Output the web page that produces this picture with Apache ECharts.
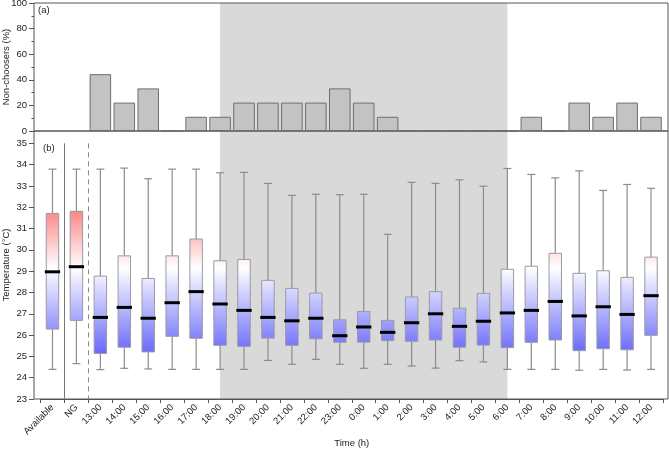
<!DOCTYPE html>
<html>
<head>
<meta charset="utf-8">
<script src="https://cdn.jsdelivr.net/npm/echarts@6/dist/echarts.min.js"></script>
<style>
  html, body { margin: 0; padding: 0; background: #fff; }
  #chart { width: 669px; height: 449px; }
</style>
</head>
<body>
<div id="chart"></div>
<script>
const categories = ['Available', 'NG', '13:00', '14:00', '15:00', '16:00', '17:00', '18:00', '19:00',
    '20:00', '21:00', '22:00', '23:00', '0:00', '1:00', '2:00', '3:00', '4:00', '5:00', '6:00',
    '7:00', '8:00', '9:00', '10:00', '11:00', '12:00'];

// (a) share of non-choosers, %
const nonChoosers = [null, null, 44.4, 22.2, 33.3, 0, 11.1, 11.1, 22.2, 22.2, 22.2, 22.2, 33.3,
    22.2, 11.1, 0, 0, 0, 0, 0, 11.1, 0, 22.2, 11.1, 22.2, 11.1];

// (b) temperature box plots, °C
const whiskerLow = [24.39, 24.66, 24.38, 24.44, 24.41, 24.39, 24.39, 24.39, 24.39, 24.81, 24.63, 24.86,
    24.63, 24.44, 24.63, 24.55, 24.45, 24.80, 24.74, 24.39, 24.39, 24.39, 24.35, 24.39, 24.36, 24.39];
const quartile1 = [26.28, 26.69, 25.14, 25.43, 25.21, 25.94, 25.85, 25.52, 25.47, 25.86, 25.52, 25.83,
    25.66, 25.67, 25.74, 25.71, 25.77, 25.43, 25.53, 25.41, 25.66, 25.77, 25.27, 25.36, 25.31, 25.99];
const medians = [28.97, 29.21, 26.83, 27.30, 26.79, 27.52, 28.04, 27.46, 27.16, 26.83, 26.67, 26.79,
    25.97, 26.38, 26.13, 26.58, 27.00, 26.41, 26.65, 27.04, 27.16, 27.58, 26.90, 27.33, 26.97, 27.85];
const quartile3 = [31.71, 31.81, 28.77, 29.72, 28.66, 29.72, 30.51, 29.49, 29.55, 28.57, 28.19, 27.97,
    26.72, 27.11, 26.69, 27.79, 28.04, 27.26, 27.96, 29.09, 29.23, 29.84, 28.90, 29.02, 28.71, 29.66];
const whiskerHigh = [33.79, 33.79, 33.79, 33.84, 33.34, 33.79, 33.79, 33.62, 33.64, 33.12, 32.56, 32.61,
    32.59, 32.61, 30.73, 33.17, 33.12, 33.29, 32.99, 33.82, 33.54, 33.38, 33.71, 32.79, 33.07, 32.89];

const shadedFrom = '18:00';
const shadedTo = '6:00';
const solidDividerBefore = 'NG';
const dashedDividerBefore = '13:00';

const tempTicks = [23, 24, 25, 26, 27, 28, 29, 30, 31, 32, 33, 34, 35];
const tempMinorTicks = [23.5, 24.5, 25.5, 26.5, 27.5, 28.5, 29.5, 30.5, 31.5, 32.5, 33.5, 34.5];
const tempTop = 35.58; // panel (b) frame reaches a little above 35

const FONT = '"Liberation Sans", Arial, Helvetica, sans-serif';
const AXIS = '#555';
const TEXT = '#222';

// colour of the box fill follows the temperature itself
const WHITE_T = 29.15, RED_T = 32, BLUE_T = 25;
const RED = [252, 125, 125], BLUE = [98, 98, 250];
function tempColor(t) {
    let c, f;
    if (t >= WHITE_T) {
        f = Math.min(1, (t - WHITE_T) / (RED_T - WHITE_T));
        c = RED;
    } else {
        f = Math.min(1, (WHITE_T - t) / (WHITE_T - BLUE_T));
        c = BLUE;
    }
    const mix = c.map(v => Math.round(255 + (v - 255) * f));
    return 'rgb(' + mix.join(',') + ')';
}
function boxGradient(top, bottom) {
    const pts = [top, WHITE_T, RED_T, BLUE_T, bottom]
        .filter(t => t <= top && t >= bottom)
        .sort((a, b) => b - a);
    const span = top - bottom || 1;
    const stops = pts.map(t => ({ offset: (top - t) / span, color: tempColor(t) }));
    return new echarts.graphic.LinearGradient(0, 0, 0, 1, stops);
}

function renderBox(params, api) {
    const i = api.value(0);
    const band = api.size([1, 0])[0];
    const lo = api.coord([i, api.value(1)]);
    const q1 = api.coord([i, api.value(2)]);
    const md = api.coord([i, api.value(3)]);
    const q3 = api.coord([i, api.value(4)]);
    const hi = api.coord([i, api.value(5)]);
    const x = hi[0];
    const boxW = band * 0.52, capW = band * 0.33, medW = band * 0.64;
    const whisker = { stroke: '#8c8c8c', lineWidth: 1.2 };
    return {
        type: 'group',
        children: [
            { type: 'line', shape: { x1: x, y1: hi[1], x2: x, y2: q3[1] }, style: whisker },
            { type: 'line', shape: { x1: x, y1: q1[1], x2: x, y2: lo[1] }, style: whisker },
            { type: 'line', shape: { x1: x - capW / 2, y1: hi[1], x2: x + capW / 2, y2: hi[1] }, style: whisker },
            { type: 'line', shape: { x1: x - capW / 2, y1: lo[1], x2: x + capW / 2, y2: lo[1] }, style: whisker },
            {
                type: 'rect',
                shape: { x: x - boxW / 2, y: q3[1], width: boxW, height: q1[1] - q3[1] },
                style: { fill: boxGradient(api.value(4), api.value(2)), stroke: '#9a9aa6', lineWidth: 1 }
            },
            { type: 'line', shape: { x1: x - medW / 2, y1: md[1], x2: x + medW / 2, y2: md[1] }, style: { stroke: '#000', lineWidth: 3 } }
        ]
    };
}

function renderShade(params, api) {
    const cs = params.coordSys;
    const x1 = api.coord([api.value(0), 0])[0];
    const x2 = api.coord([api.value(1), 0])[0];
    return {
        type: 'rect',
        shape: { x: x1, y: cs.y, width: x2 - x1, height: cs.height },
        style: { fill: '#d9d9d9' }
    };
}

function dividerSeries(name, dashed) {
    return {
        type: 'custom',
        xAxisIndex: 1,
        yAxisIndex: 1,
        z: 1,
        data: [[categories.indexOf(name)]],
        encode: { x: 0 },
        renderItem: function (params, api) {
            const i = api.value(0);
            const band = api.size([1, 0])[0];
            const bottom = api.coord([i, tempTicks[0]]);
            const top = api.coord([i, tempTicks[tempTicks.length - 1]]);
            const x = Math.round(bottom[0] - band / 2) + 0.5;
            return {
                type: 'line',
                shape: { x1: x, y1: top[1], x2: x, y2: bottom[1] },
                style: { stroke: dashed ? '#8a8a8a' : '#777', lineWidth: 1, lineDash: dashed ? [5, 4] : null }
            };
        }
    };
}

const boxData = categories.map((c, i) => [i, whiskerLow[i], quartile1[i], medians[i], quartile3[i], whiskerHigh[i]]);
const shadeData = [[categories.indexOf(shadedFrom), categories.indexOf(shadedTo)]];

const chart = echarts.init(document.getElementById('chart'), null, { renderer: 'canvas' });

const gridBase = { outerBoundsMode: 'none', containLabel: false };
const nameFont = { fontSize: 9.5, color: TEXT, fontFamily: FONT, verticalAlign: 'middle' };

chart.setOption({
    animation: false,
    backgroundColor: '#fff',
    textStyle: { fontFamily: FONT },
    grid: [
        Object.assign({ left: 40.5, right: 6, top: 3, height: 128 }, gridBase),
        Object.assign({ left: 40.5, right: 6, top: 131, bottom: 50 }, gridBase),
        Object.assign({ left: 34, right: 1, top: 3, height: 128, show: true, borderColor: AXIS, borderWidth: 1, backgroundColor: 'transparent' }, gridBase),
        Object.assign({ left: 34, right: 1, top: 131, bottom: 50, show: true, borderColor: AXIS, borderWidth: 1, backgroundColor: 'transparent' }, gridBase)
    ],
    xAxis: [
        {
            type: 'category', gridIndex: 0, data: categories,
            axisLine: { show: false }, axisTick: { show: false }, axisLabel: { show: false }
        },
        {
            type: 'category', gridIndex: 1, data: categories,
            axisLine: { show: true, lineStyle: { color: AXIS } },
            axisTick: { show: true, length: 4, lineStyle: { color: AXIS } },
            axisLabel: { interval: 0, rotate: 45, fontSize: 9.5, color: TEXT, margin: 7, fontFamily: FONT },
            name: 'Time (h)', nameLocation: 'middle', nameGap: 44, nameMoveOverlap: false,
            nameTextStyle: nameFont
        }
    ],
    yAxis: [
        {
            type: 'value', gridIndex: 0, min: 0, max: 100, interval: 20, offset: 6.5,
            axisLine: { show: false },
            axisTick: { show: true, length: 5, lineStyle: { color: AXIS } },
            minorTick: { show: true, splitNumber: 2, length: 2.5, lineStyle: { color: AXIS } },
            splitLine: { show: false },
            axisLabel: { fontSize: 9.5, color: TEXT, margin: 7, fontFamily: FONT },
            name: 'Non-choosers (%)', nameLocation: 'middle', nameGap: 27.5, nameMoveOverlap: false,
            nameTextStyle: nameFont
        },
        {
            type: 'value', gridIndex: 1, min: 23, max: tempTop, interval: 1, offset: 6.5,
            axisLine: { show: false },
            axisTick: { show: true, length: 5, customValues: tempTicks, lineStyle: { color: AXIS } },
            splitLine: { show: false },
            axisLabel: { fontSize: 9.5, color: TEXT, margin: 7, customValues: tempTicks, fontFamily: FONT },
            name: 'Temperature (°C)', nameLocation: 'middle', nameGap: 27.5, nameMoveOverlap: false,
            nameTextStyle: nameFont
        },
        {
            type: 'value', gridIndex: 1, min: 23, max: tempTop, interval: 1, offset: 6.5,
            axisLine: { show: false },
            axisTick: { show: true, length: 2.5, customValues: tempMinorTicks, lineStyle: { color: AXIS } },
            splitLine: { show: false },
            axisLabel: { show: false }
        }
    ],
    graphic: [
        { type: 'text', left: 38, top: 5, style: { text: '(a)', fontSize: 9.5, fill: TEXT, fontFamily: FONT } },
        { type: 'text', left: 43, top: 143, style: { text: '(b)', fontSize: 9.5, fill: TEXT, fontFamily: FONT } }
    ],
    series: [
        {
            type: 'custom', xAxisIndex: 0, yAxisIndex: 0, z: -1, silent: true,
            data: shadeData, encode: { x: [0, 1] }, renderItem: renderShade
        },
        {
            type: 'custom', xAxisIndex: 1, yAxisIndex: 1, z: -1, silent: true,
            data: shadeData, encode: { x: [0, 1] }, renderItem: renderShade
        },
        {
            type: 'bar', xAxisIndex: 0, yAxisIndex: 0, data: nonChoosers, barWidth: '90%',
            itemStyle: { color: '#c3c3c3', borderColor: '#6e6e6e', borderWidth: 1 }
        },
        dividerSeries(solidDividerBefore, false),
        dividerSeries(dashedDividerBefore, true),
        {
            type: 'custom', xAxisIndex: 1, yAxisIndex: 1, z: 3,
            data: boxData, encode: { x: 0, y: [1, 2, 3, 4, 5] }, renderItem: renderBox
        }
    ]
});
</script>
</body>
</html>
